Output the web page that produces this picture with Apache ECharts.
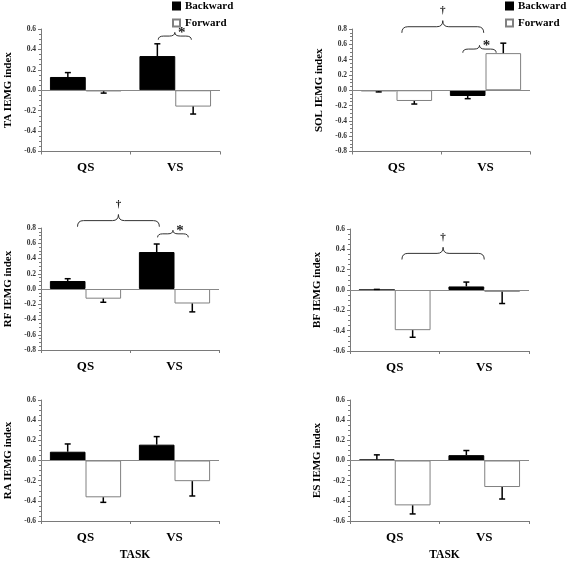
<!DOCTYPE html>
<html>
<head>
<meta charset="utf-8">
<script src="https://cdn.jsdelivr.net/npm/echarts@6/dist/echarts.min.js"></script>
<style>
html,body{margin:0;padding:0;background:#fff;}
#c{width:567px;height:562px;}
</style>
</head>
<body>
<div id="c"></div>
<script>
// ---------- data ----------
const tasks = ['QS', 'VS'];
const legendNames = ['Backward', 'Forward'];
const axisTitles = ['TA IEMG index', 'SOL IEMG index', 'RF IEMG index', 'BF IEMG index', 'RA IEMG index', 'ES IEMG index'];
const yMins = [-0.6, -0.8, -0.8, -0.6, -0.6, -0.6];
const yMaxs = [0.6, 0.8, 0.8, 0.6, 0.6, 0.6];
const xAxisTitle = 'TASK';

const taBackward = [0.13, 0.335];   const taBackwardErr = [0.043, 0.12];
const taForward = [-0.01, -0.16];   const taForwardErr = [0.018, 0.073];
const solBackward = [-0.01, -0.075]; const solBackwardErr = [0.012, 0.035];
const solForward = [-0.14, 0.485];  const solForwardErr = [0.04, 0.13];
const rfBackward = [0.105, 0.485];  const rfBackwardErr = [0.03, 0.105];
const rfForward = [-0.127, -0.19];  const rfForwardErr = [0.047, 0.11];
const bfBackward = [0.0, 0.035];    const bfBackwardErr = [0.006, 0.043];
const bfForward = [-0.395, -0.018]; const bfForwardErr = [0.07, 0.115];
const raBackward = [0.087, 0.157];  const raBackwardErr = [0.077, 0.08];
const raForward = [-0.365, -0.205]; const raForwardErr = [0.05, 0.147];
const esBackward = [0.01, 0.053];   const esBackwardErr = [0.046, 0.046];
const esForward = [-0.445, -0.263]; const esForwardErr = [0.085, 0.119];

// significance braces: [fromTask, fromOffset, toTask, toOffset, yValue, mark]
const taBraces = [[1, -0.19, 1, 0.18, 0.495, '*']];
const solBraces = [[0, 0.06, 1, -0.02, 0.75, '†'], [1, -0.255, 1, 0.12, 0.49, '*']];
const rfBraces = [[0, -0.09, 1, -0.17, 0.817, '†'], [1, -0.19, 1, 0.155, 0.677, '*']];
const bfBraces = [[0, 0.08, 1, 0.0, 0.30, '†']];
const raBraces = [];
const esBraces = [];

const panelBackward = [taBackward, solBackward, rfBackward, bfBackward, raBackward, esBackward];
const panelBackwardErr = [taBackwardErr, solBackwardErr, rfBackwardErr, bfBackwardErr, raBackwardErr, esBackwardErr];
const panelForward = [taForward, solForward, rfForward, bfForward, raForward, esForward];
const panelForwardErr = [taForwardErr, solForwardErr, rfForwardErr, bfForwardErr, raForwardErr, esForwardErr];
const panelBraces = [taBraces, solBraces, rfBraces, bfBraces, raBraces, esBraces];

// ---------- layout ----------
const grids = [
  {left: 41, top: 29, width: 179, height: 122.5},
  {left: 352, top: 29, width: 178, height: 122.5},
  {left: 41, top: 228, width: 178, height: 122},
  {left: 350, top: 229, width: 179, height: 122},
  {left: 41, top: 400, width: 178, height: 121},
  {left: 350, top: 400, width: 179, height: 121}
];
const FONT = '"Liberation Serif", "Times New Roman", serif';
const AXIS_COLOR = '#7a7a7a';

const xAxes = [], yAxes = [], series = [];
grids.forEach((g, i) => {
  const isBottom = i >= 4;
  xAxes.push({
    type: 'category', gridIndex: i, data: tasks,
    position: 'bottom',
    axisLine: {onZero: false, lineStyle: {color: AXIS_COLOR, width: 1}},
    axisTick: {show: true, alignWithLabel: false, length: 3, lineStyle: {color: AXIS_COLOR}},
    axisLabel: {fontFamily: FONT, fontWeight: 'bold', fontSize: 13, color: '#000', margin: 10},
    name: isBottom ? xAxisTitle : '',
    nameLocation: 'middle', nameGap: 28,
    nameTextStyle: {fontFamily: FONT, fontWeight: 'bold', fontSize: 11.5, color: '#000', padding: [0, 0, 0, 10]}
  });
  yAxes.push({
    type: 'value', gridIndex: i, min: yMins[i], max: yMaxs[i], interval: 0.2,
    axisLine: {show: true, lineStyle: {color: AXIS_COLOR, width: 1}},
    axisTick: {show: true, length: 3, lineStyle: {color: AXIS_COLOR}},
    minorTick: {show: true, splitNumber: 4, length: 2, lineStyle: {color: AXIS_COLOR}},
    splitLine: {show: false},
    axisLabel: {fontFamily: FONT, fontWeight: 'bold', fontSize: 7.5, color: '#333', margin: 5,
      formatter: v => v.toFixed(1)},
    name: axisTitles[i], nameLocation: 'middle', nameRotate: 90, nameGap: 27,
    nameTextStyle: {fontFamily: FONT, fontWeight: 'bold', fontSize: 11, color: '#000'}
  });
  series.push({
    type: 'bar', name: legendNames[0], xAxisIndex: i, yAxisIndex: i,
    data: panelBackward[i], barGap: '0%', barCategoryGap: '20%',
    itemStyle: {color: '#000', borderColor: '#000', borderWidth: 1},
    markLine: {silent: true, symbol: 'none', label: {show: false},
      lineStyle: {color: '#888', type: 'solid', width: 1}, data: [{yAxis: 0}]},
    z: 2
  });
  series.push({
    type: 'bar', name: legendNames[1], xAxisIndex: i, yAxisIndex: i,
    data: panelForward[i], barGap: '0%', barCategoryGap: '20%',
    itemStyle: {color: '#fff', borderColor: '#808080', borderWidth: 1},
    z: 2
  });
  // error bars
  const errData = [];
  tasks.forEach((t, k) => {
    errData.push([k, panelBackward[i][k], panelBackwardErr[i][k], 0]);
    errData.push([k, panelForward[i][k], panelForwardErr[i][k], 1]);
  });
  series.push({
    type: 'custom', xAxisIndex: i, yAxisIndex: i, data: errData, z: 5, silent: true,
    renderItem: (params, api) => {
      const cat = api.value(0), v = api.value(1), e = api.value(2), s = api.value(3);
      const band = api.size([1, 0])[0];
      const p = api.coord([cat, v]);
      const x = p[0] + (s === 0 ? -0.2 : 0.2) * band;
      const dir = v < 0 ? -1 : 1;
      const yEnd = api.coord([cat, v + dir * e])[1];
      const st = {stroke: '#000', lineWidth: 1.5};
      return {type: 'group', children: [
        {type: 'line', shape: {x1: x, y1: p[1], x2: x, y2: yEnd}, style: st},
        {type: 'line', shape: {x1: x - 3, y1: yEnd, x2: x + 3, y2: yEnd}, style: st}
      ]};
    }
  });
  // braces
  const br = panelBraces[i];
  if (br.length) {
    series.push({
      type: 'custom', xAxisIndex: i, yAxisIndex: i, clip: false, silent: true, z: 6,
      data: br.map(b => [b[0], b[1], b[2], b[3], b[4]]),
      renderItem: (params, api) => {
        const b = br[params.dataIndex];
        const band = api.size([1, 0])[0];
        const p1 = api.coord([b[0], b[4]]);
        const p2 = api.coord([b[2], b[4]]);
        const x1 = p1[0] + b[1] * band, x2 = p2[0] + b[3] * band;
        const yE = p1[1];
        const w = x2 - x1;
        const h = 4 + 0.1 * w;
        const yM = yE - h * 0.5, yT = yE - h;
        const xm = (x1 + x2) / 2;
        const r = Math.min(6, w / 6);
        const d = `M${x1},${yE} Q${x1},${yM} ${x1 + r},${yM} L${xm - r},${yM} Q${xm},${yM} ${xm},${yT} ` +
          `Q${xm},${yM} ${xm + r},${yM} L${x2 - r},${yM} Q${x2},${yM} ${x2},${yE}`;
        const isStar = b[5] === '*';
        return {type: 'group', children: [
          {type: 'path', shape: {pathData: d}, style: {fill: 'none', stroke: '#333', lineWidth: 1}},
          {type: 'text', style: {
            text: b[5],
            x: isStar ? xm + 7 : xm,
            y: isStar ? yT + 1 : yT - 10,
            align: 'center', verticalAlign: 'middle',
            font: isStar ? 'bold 15px ' + FONT : 'bold 11px ' + FONT,
            fill: '#222'
          }}
        ]};
      }
    });
  }
});

const legendCommon = {
  orient: 'vertical', itemWidth: 7, itemHeight: 7, itemGap: 5, padding: 0,
  selectedMode: false, icon: 'rect',
  textStyle: {fontFamily: FONT, fontWeight: 'bold', fontSize: 11, color: '#000', lineHeight: 12},
  data: legendNames
};

const chart = echarts.init(document.getElementById('c'), null, {renderer: 'canvas'});
chart.setOption({
  animation: false,
  backgroundColor: '#fff',
  grid: grids,
  xAxis: xAxes,
  yAxis: yAxes,
  legend: [
    Object.assign({}, legendCommon, {left: 172, top: 0}),
    Object.assign({}, legendCommon, {left: 505, top: 0})
  ],
  series: series
});
</script>
</body>
</html>
